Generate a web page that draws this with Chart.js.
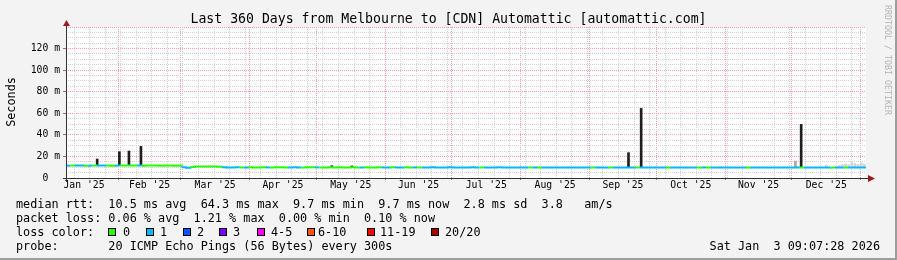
<!DOCTYPE html>
<html>
<head>
<meta charset="utf-8">
<script src="https://cdn.jsdelivr.net/npm/chart.js@4/dist/chart.umd.min.js"></script>
<style>
html, body { margin: 0; padding: 0; background: #f3f3f3; }
#wrap { position: relative; width: 897px; height: 260px; overflow: hidden; font-family: "DejaVu Sans Mono", monospace; color: #000; }
#chart { position: absolute; left: 0; top: 0; }
.t { position: absolute; white-space: pre; line-height: 14px; font-size: 11.8px; }
.sq { position: absolute; width: 8px; height: 8px; border: 1px solid #000; box-sizing: border-box; top: 228px; }
#title { position: absolute; left: 0; top: 11px; width: 897px; text-align: center; font-size: 13.2px; line-height: 16px; white-space: pre; }
#ylab { position: absolute; left: -39px; top: 95px; width: 100px; height: 14px; text-align: center; transform: rotate(-90deg); }
#mark { position: absolute; left: 828px; top: 55px; width: 120px; height: 10px; line-height: 10px; text-align: center; font-size: 8.3px; color: #b4b4b4; transform: rotate(90deg); white-space: pre; }
.edge { position: absolute; background: #9e9e9e; }
</style>
</head>
<body>
<div id="wrap">
  <canvas id="chart" width="897" height="260"></canvas>
  <div id="title">Last 360 Days from Melbourne to [CDN] Automattic [automattic.com]</div>
  <div id="ylab" class="t">Seconds</div>
  <div id="mark">RRDTOOL / TOBI OETIKER</div>
  <div class="t" style="left:16px;top:197px">median rtt:  10.5 ms avg  64.3 ms max  9.7 ms min  9.7 ms now  2.8 ms sd  3.8   am/s</div>
  <div class="t" style="left:16px;top:211px">packet loss: 0.06 % avg  1.21 % max  0.00 % min  0.10 % now</div>
  <div class="t" style="left:16px;top:225px">loss color:</div>
  <div id="legend"></div>
  <div class="t" style="left:16px;top:239px">probe:       20 ICMP Echo Pings (56 Bytes) every 300s</div>
  <div class="t" style="right:17px;top:239px">Sat Jan  3 09:07:28 2026</div>
  <div class="edge" style="left:0;top:258px;width:897px;height:2px"></div>
  <div class="edge" style="left:895px;top:0;width:2px;height:260px"></div>
</div>
<script>
// time axis in days since 1 Jan 2025 00:00
const startDay = 7.38;
const endDay = 367.38;
const monthStarts = [31, 59, 90, 120, 151, 181, 212, 243, 273, 304, 334, 365];
const monthMids = [15.5, 45, 74.5, 105, 135.5, 166, 196.5, 227.5, 258, 288.5, 319, 349.5];
const monthLabels = ["Jan '25", "Feb '25", "Mar '25", "Apr '25", "May '25", "Jun '25",
                     "Jul '25", "Aug '25", "Sep '25", "Oct '25", "Nov '25", "Dec '25"];
const firstSunday = 11;
const yTicks = [0, 5, 10, 15, 20, 25, 30, 35, 40, 45, 50, 55, 60, 65, 70,
                75, 80, 85, 90, 95, 100, 105, 110, 115, 120, 125, 130, 135, 140];
const yLabelled = [0, 20, 40, 60, 80, 100, 120];

// median rtt (ms), one value every 2 days
const rttStep = 2;
const rttMedian = [
  11.5, 11.5, 11.6, 11.5, 11.4, 11.5, 11.5, 11.6, 11.5, 11.5,
  11.4, 11.5, 11.5, 11.5, 11.6, 11.5, 11.5, 11.4, 11.5, 11.5,
  11.5, 11.4, 11.5, 11.5, 11.4, 11.5, 10.0, 9.4, 10.3, 10.6,
  10.6, 10.7, 10.6, 10.6, 10.5, 9.9, 9.8, 9.8, 9.9, 9.8,
  9.8, 9.9, 9.8, 9.8, 9.9, 9.8, 9.8, 9.9, 9.9, 9.8,
  9.8, 9.9, 9.8, 9.8, 9.9, 9.9, 9.8, 9.8, 9.8, 9.9,
  9.8, 9.9, 9.8, 9.8, 9.9, 9.8, 9.8, 9.9, 9.8, 9.8,
  9.9, 9.8, 9.8, 9.9, 9.8, 9.8, 9.9, 9.8, 9.8, 9.8,
  9.8, 9.8, 9.9, 9.8, 9.8, 9.8, 9.9, 9.8, 9.8, 9.8,
  9.8, 9.9, 9.8, 9.8, 9.8, 9.8, 9.8, 9.9, 9.8, 9.8,
  9.8, 9.8, 9.7, 9.8, 9.8, 9.8, 9.7, 9.8, 9.8, 9.8,
  9.7, 9.8, 9.8, 9.7, 9.8, 9.8, 9.8, 9.7, 9.8, 9.8,
  9.8, 9.7, 9.8, 9.8, 9.7, 9.8, 9.8, 9.7, 9.8, 9.8,
  9.7, 9.8, 9.8, 9.7, 9.8, 9.7, 9.8, 9.8, 9.7, 9.8,
  9.8, 9.7, 9.7, 9.8, 9.8, 9.7, 9.8, 9.7, 9.7, 9.8,
  9.7, 9.8, 9.7, 9.7, 9.8, 9.7, 9.7, 9.8, 9.7, 9.7,
  9.8, 9.7, 9.7, 9.7, 9.8, 9.7, 9.7, 9.7, 9.8, 9.7,
  9.7, 9.7, 9.8, 9.7, 9.7, 9.7, 9.7, 9.8, 9.7, 9.7,
  9.7
];
// lost pings per sample (index into lossColors)
const rttLoss = [
  1, 0, 1, 1, 0, 1, 0, 1, 1, 0, 0, 1, 0, 0, 0, 0, 1, 0, 0, 0,
  0, 0, 0, 0, 0, 0, 1, 1, 0, 0, 0, 0, 0, 0, 0, 1, 1, 1, 1, 0,
  1, 0, 0, 0, 0, 1, 0, 0, 0, 0, 1, 1, 1, 0, 0, 0, 1, 0, 0, 0,
  0, 0, 0, 0, 0, 0, 1, 0, 0, 0, 0, 1, 1, 0, 1, 1, 0, 0, 1, 0,
  1, 1, 1, 1, 1, 1, 1, 1, 1, 1, 1, 1, 1, 0, 1, 1, 1, 1, 1, 1,
  1, 1, 1, 1, 0, 1, 0, 1, 1, 1, 1, 1, 1, 1, 1, 1, 1, 1, 0, 1,
  1, 1, 0, 1, 1, 1, 1, 1, 0, 1, 1, 1, 1, 1, 1, 0, 1, 1, 1, 1,
  1, 1, 0, 1, 0, 1, 1, 1, 1, 1, 1, 1, 1, 0, 1, 1, 1, 1, 1, 1,
  1, 1, 1, 1, 1, 0, 1, 1, 1, 1, 1, 1, 0, 1, 1, 0, 1, 1, 1, 1,
  1
];
const lossColors = ['#26ff00', '#00b8ff', '#0059ff', '#7e00ff', '#ff00ff', '#ff5500', '#ff0000', '#a00000'];
const lossNames = ['0', '1', '2', '3', '4-5', '6-10', '11-19', '20/20'];

// smoke (ping spread) spikes
const smokeDays = [21.4, 31.4, 35.7, 41.1, 127.0, 136.0, 260.5, 266.2, 338.2];
const smokeLow = [11.5, 11.5, 11.5, 11.5, 9.8, 9.8, 9.8, 9.8, 9.7];
const smokeHigh = [17.6, 24.4, 25.0, 29.3, 11.4, 11.2, 23.5, 64.5, 49.7];
const lightDays = [335.6, 349.5, 355.4, 356.8, 358.2, 359.6, 361.0, 362.4, 363.8, 365.2, 366.6];
const lightLow = [9.7, 9.7, 9.7, 9.7, 9.7, 9.7, 9.7, 9.7, 9.7, 9.7, 9.7];
const lightHigh = [15.7, 12.0, 11.6, 12.4, 13.0, 12.2, 14.2, 13.4, 12.6, 14.0, 13.0];

// legend boxes
const legendSq = [108, 146, 183, 219, 257, 307, 367, 431];
const legendTx = [123, 160, 197, 233, 271, 318, 380, 445];
const legend = document.getElementById('legend');
lossNames.forEach((name, i) => {
  const sq = document.createElement('div');
  sq.className = 'sq';
  sq.style.left = legendSq[i] + 'px';
  sq.style.background = lossColors[i];
  legend.appendChild(sq);
  const tx = document.createElement('div');
  tx.className = 't';
  tx.style.left = legendTx[i] + 'px';
  tx.style.top = '225px';
  tx.textContent = name;
  legend.appendChild(tx);
});

const MAJOR = '#f4a0a0';
const MINOR = '#d2d2d2';

const xKind = {};
const xLabel = {};
monthStarts.forEach(d => { xKind[d] = 'major'; });
for (let d = firstSunday; d < endDay; d += 7) if (!xKind[d]) xKind[d] = 'minor';
monthMids.forEach((d, i) => { xKind[d] = 'label'; xLabel[d] = monthLabels[i]; });
const xTickValues = Object.keys(xKind).map(Number).sort((a, b) => a - b);

const rttPoints = rttMedian.map((v, i) => ({ x: startDay + i * rttStep, y: v }));
const smokePoints = smokeDays.map((d, i) => ({ x: d, y: [smokeLow[i], smokeHigh[i]] }));
const lightPoints = lightDays.map((d, i) => ({ x: d, y: [lightLow[i], lightHigh[i]] }));

const frame = {
  id: 'frame',
  beforeDraw(chart) {
    const { ctx, chartArea: a } = chart;
    ctx.save();
    ctx.fillStyle = '#ffffff';
    ctx.fillRect(a.left, a.top, a.right - a.left, a.bottom - a.top);
    ctx.restore();
  },
  afterDraw(chart) {
    const { ctx, chartArea: a } = chart;
    ctx.save();
    ctx.strokeStyle = '#333333';
    ctx.lineWidth = 1;
    ctx.beginPath();
    ctx.moveTo(a.left + 0.5, a.bottom + 4);
    ctx.lineTo(a.left + 0.5, a.top - 5);
    ctx.moveTo(a.left - 3, a.bottom + 0.5);
    ctx.lineTo(a.right + 3, a.bottom + 0.5);
    ctx.stroke();
    ctx.fillStyle = '#9c1c1c';
    ctx.beginPath();
    ctx.moveTo(a.right + 2, a.bottom - 3);
    ctx.lineTo(a.right + 9, a.bottom + 0.5);
    ctx.lineTo(a.right + 2, a.bottom + 4);
    ctx.closePath();
    ctx.fill();
    ctx.beginPath();
    ctx.moveTo(a.left - 3, a.top - 1);
    ctx.lineTo(a.left + 0.5, a.top - 7);
    ctx.lineTo(a.left + 4, a.top - 1);
    ctx.closePath();
    ctx.fill();
    ctx.restore();
  }
};

new Chart(document.getElementById('chart').getContext('2d'), {
  type: 'line',
  data: {
    datasets: [
      {
        type: 'line',
        data: rttPoints,
        stepped: true,
        borderWidth: 2,
        pointRadius: 0,
        borderColor: lossColors[0],
        segment: { borderColor: c => lossColors[rttLoss[c.p0DataIndex]] },
        order: 0
      },
      {
        type: 'bar',
        data: smokePoints,
        backgroundColor: '#1e1e1e',
        barThickness: 2,
        grouped: false,
        order: 1
      },
      {
        type: 'bar',
        data: lightPoints,
        backgroundColor: ['#a8a8a8', '#d2d2d2', '#d2d2d2', '#d2d2d2', '#d2d2d2', '#d2d2d2', '#d2d2d2', '#d2d2d2', '#d2d2d2', '#d2d2d2', '#d2d2d2'],
        barThickness: 2,
        grouped: false,
        order: 2
      }
    ]
  },
  options: {
    responsive: false,
    animation: false,
    devicePixelRatio: 1,
    layout: { padding: { left: 0, right: 31, top: 27, bottom: 0 } },
    plugins: { legend: { display: false }, tooltip: { enabled: false }, title: { display: false } },
    scales: {
      x: {
        type: 'linear',
        min: startDay,
        max: endDay,
        offset: false,
        afterBuildTicks: s => { s.ticks = xTickValues.map(v => ({ value: v })); },
        afterFit: s => { s.height = 82; },
        border: { display: false, dash: [1, 1] },
        grid: {
          offset: false,
          drawTicks: true,
          tickLength: 2,
          color: c => c.tick && xKind[c.tick.value] === 'major' ? MAJOR : (c.tick && xKind[c.tick.value] === 'minor' ? MINOR : 'rgba(0,0,0,0)'),
          tickColor: c => c.tick && xKind[c.tick.value] === 'major' ? '#e05050' : 'rgba(0,0,0,0)'
        },
        ticks: {
          autoSkip: false,
          maxRotation: 0,
          minRotation: 0,
          padding: 0,
          color: '#000',
          font: { family: 'DejaVu Sans Mono', size: 9.75 },
          callback: v => xLabel[v] || ''
        }
      },
      y: {
        type: 'linear',
        min: 0,
        max: 140,
        afterBuildTicks: s => { s.ticks = yTicks.map(v => ({ value: v })); },
        afterFit: s => { s.width = 66; },
        border: { display: false, dash: [1, 1] },
        grid: {
          drawTicks: true,
          tickLength: 3,
          color: c => c.tick && c.tick.value % 20 === 0 ? MAJOR : MINOR,
          tickColor: c => c.tick && yLabelled.includes(c.tick.value) && c.tick.value > 0 ? '#e05050' : 'rgba(0,0,0,0)'
        },
        ticks: {
          autoSkip: false,
          padding: 3,
          color: '#000',
          font: { family: 'DejaVu Sans Mono', size: 9.75 },
          callback: v => v === 0 ? '0  ' : (yLabelled.includes(v) ? v + ' m' : '')
        }
      }
    }
  },
  plugins: [frame]
});
</script>
</body>
</html>
